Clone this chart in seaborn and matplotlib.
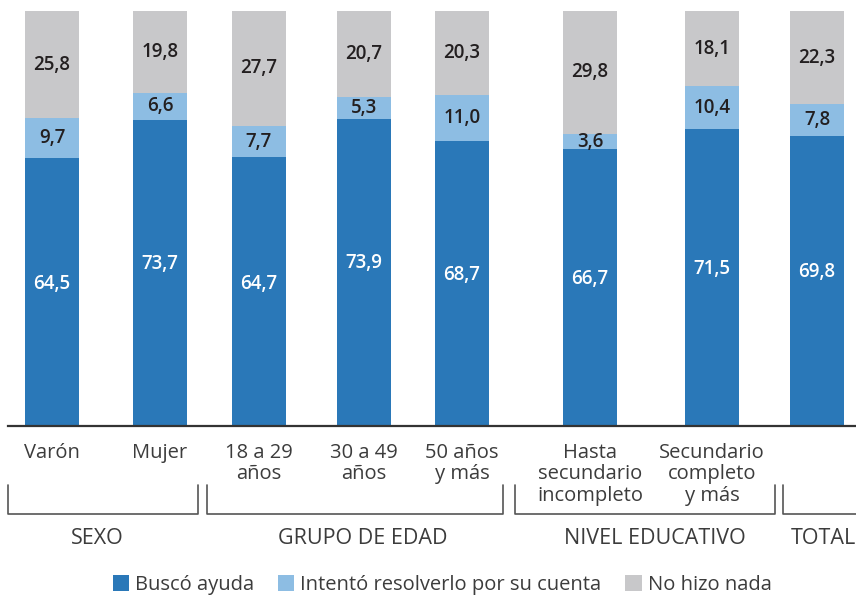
import pandas as pd
import seaborn as sns
import matplotlib.pyplot as plt
from matplotlib.lines import Line2D
from matplotlib.patches import Patch

# data
categories = ["Varón", "Mujer", "18 a 29\naños", "30 a 49\naños", "50 años\ny más",
              "Hasta\nsecundario\nincompleto", "Secundario\ncompleto\ny más", "TOTAL"]
tick_labels = ["Varón", "Mujer", "18 a 29\naños", "30 a 49\naños", "50 años\ny más",
               "Hasta\nsecundario\nincompleto", "Secundario\ncompleto\ny más", ""]
busco = [64.5, 73.7, 64.7, 73.9, 68.7, 66.7, 71.5, 69.8]
intento = [9.7, 6.6, 7.7, 5.3, 11.0, 3.6, 10.4, 7.8]
nada = [25.8, 19.8, 27.7, 20.7, 20.3, 29.8, 18.1, 22.3]
series_names = ["Buscó ayuda", "Intentó resolverlo por su cuenta", "No hizo nada"]
groups = ["SEXO", "GRUPO DE EDAD", "NIVEL EDUCATIVO", "TOTAL"]

# layout (pixel positions, x axis mapped 1:1 to pixels)
W, H = 856, 596
positions = [52, 160, 259, 364, 462, 590, 712, 817]
group_spans = [(8, 198), (207, 503), (515, 775), (783, 880)]
group_label_x = [97, 363, 655, 823]

colors = ["#2a78b8", "#8dbde3", "#c8c8ca"]
text_dark = "#231f20"
text_grey = "#3c3c3c"

sns.set_style("white")
plt.rcParams["font.family"] = ["Open Sans", "DejaVu Sans"]

df = pd.DataFrame({"pos": positions, "cat": categories,
                   "busco": busco, "intento": intento, "nada": nada})
df["c2"] = df["busco"] + df["intento"]
df["c3"] = df["c2"] + df["nada"]

fig = plt.figure(figsize=(W / 100, H / 100), dpi=100)
ax_bottom, ax_top = 426, 11
ax = fig.add_axes([8 / W, (H - ax_bottom) / H, 1 - 8 / W, (ax_bottom - ax_top) / H])

width = 54 / 98  # relative to min spacing between bars (native scale)
for col, c in zip(["c3", "c2", "busco"], colors[::-1]):
    sns.barplot(data=df, x="pos", y=col, native_scale=True, color=c,
                width=width, saturation=1, ax=ax, edgecolor="none")

ax.set_xlim(8, W)
ax.set_ylim(0, 100)
ax.set_xlabel("")
ax.set_ylabel("")
ax.set_yticks([])
sns.despine(ax=ax, left=True)
ax.spines["bottom"].set_color("#333333")
ax.spines["bottom"].set_linewidth(1.6)
ax.set_xticks(positions, tick_labels)
ax.tick_params(axis="x", length=0, pad=12, labelsize=14.5, colors=text_grey)
for t in ax.get_xticklabels():
    t.set_linespacing(1.12)

# value labels
fmt = lambda v: f"{v:.1f}".replace(".", ",")
lab_kw = dict(ha="center", va="center", fontsize=13.5, fontweight="semibold")
for i, row in df.iterrows():
    ax.text(row["pos"], row["busco"] * 0.53, fmt(row["busco"]), color="white", **lab_kw)
    ax.text(row["pos"], row["busco"] + row["intento"] / 2, fmt(row["intento"]),
            color=text_dark, **lab_kw)
    ax.text(row["pos"], row["c2"] + row["nada"] / 2, fmt(row["nada"]),
            color=text_dark, **lab_kw)

# group brackets
fy = lambda ypix: (H - ypix) / H
fx = lambda xpix: xpix / W
for (x0, x1), name, lx in zip(group_spans, groups, group_label_x):
    fig.add_artist(Line2D([fx(x0), fx(x0), fx(x1), fx(x1)],
                          [fy(485), fy(514), fy(514), fy(485)],
                          color="#555555", lw=1.2, transform=fig.transFigure))
    fig.text(fx(lx), fy(539), name, ha="center", va="center",
             fontsize=15.5, color=text_grey)

# legend
handles = [Patch(facecolor=c, edgecolor="none") for c in colors]
fig.legend(handles, series_names, loc="center", bbox_to_anchor=(fx(442), fy(585)),
           ncol=3, frameon=False, fontsize=14.5, handlelength=0.8, handleheight=0.8,
           handletextpad=0.3, columnspacing=1.2, labelcolor=text_grey)

fig.savefig("out.png", dpi=100)
